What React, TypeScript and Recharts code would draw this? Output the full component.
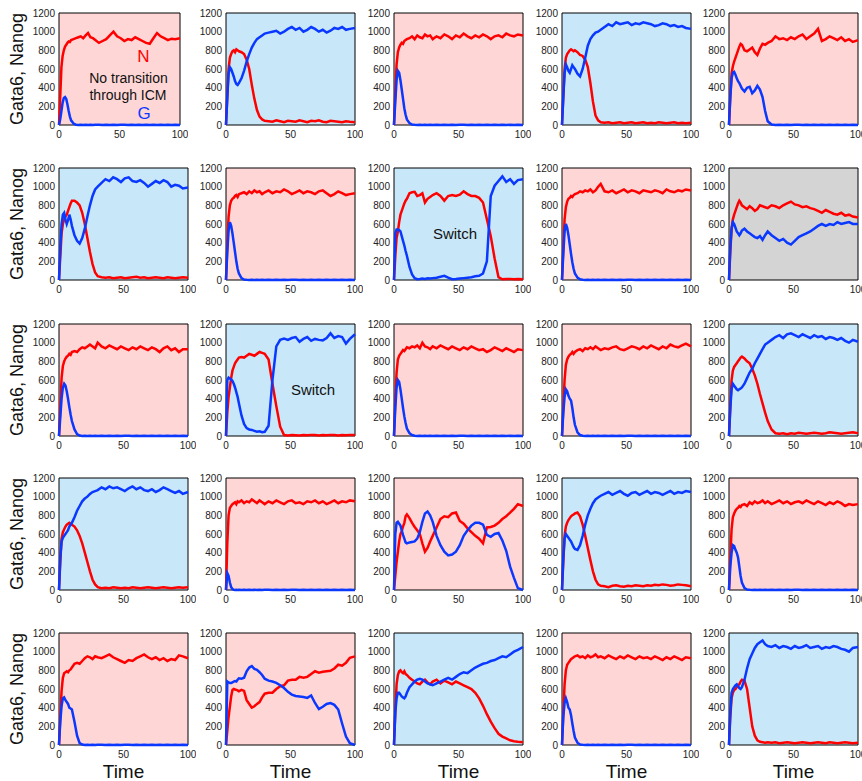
import React from 'react'
import { LineChart, Line, XAxis, YAxis, ReferenceArea } from 'recharts'

// shared time axis (dense at the start, where things move fast)
const time = [
  0, 1, 2, 3, 4, 5, 6, 7, 8, 9, 10,
  12, 14, 16, 18, 20, 22, 24, 26, 28, 30,
  33, 36, 39, 42, 45, 48, 51, 54, 57, 60, 63, 66,
  69, 72, 75, 78, 81, 84, 87, 90, 93, 96, 100,
]

// row 1
const n11 = [
  0, 300, 620, 740, 800, 840, 860, 880, 895, 890, 910,
  920, 930, 940, 950, 930, 960, 985, 940, 930, 910,
  880, 900, 920, 960, 1000, 950, 930, 900, 920, 910, 940, 920,
  900, 880, 870, 930, 985, 950, 930, 910, 925, 920, 930,
]
const g11 = [
  0, 60, 150, 240, 290, 300, 280, 220, 150, 90, 50,
  15, 3, 0, 2, 0, 3, 0, 2, 0, 3,
  2, 0, 3, 0, 2, 0, 3, 2, 0, 3, 0, 2,
  0, 3, 0, 2, 0, 3, 0, 2, 0, 3, 0,
]
const n12 = [
  0, 300, 600, 720, 760, 790, 800, 780, 810, 800, 790,
  780, 760, 700, 600, 430, 280, 160, 90, 60, 45,
  40, 35, 50, 40, 30, 45, 40, 35, 50, 40, 30, 45,
  40, 50, 35, 30, 45, 40, 35, 30, 40, 35, 30,
]
const g12 = [
  0, 300, 550, 620, 600, 560, 520, 470, 440, 430, 450,
  500, 580, 680, 760, 830, 880, 920, 940, 960, 980,
  990, 1000, 1010, 980, 1000, 1030, 1050, 1020, 1040, 1000, 1020, 1050,
  1030, 1000, 1020, 990, 1010, 1040, 1030, 1050, 1020, 1030, 1040,
]
const n13 = [
  0, 350, 650, 780, 830, 860, 880, 870, 900, 910, 920,
  930, 950, 920, 960, 940, 930, 970, 950, 960, 920,
  950, 930, 970, 950, 920, 960, 940, 980, 950, 930, 960, 940,
  970, 950, 920, 950, 960, 940, 980, 960, 950, 970, 960,
]
const g13 = [
  0, 250, 480, 580, 560, 480, 380, 280, 180, 110, 60,
  20, 5, 2, 0, 3, 0, 2, 0, 3, 0,
  2, 0, 3, 0, 2, 0, 3, 2, 0, 3, 0, 2,
  0, 3, 0, 2, 0, 3, 0, 2, 0, 3, 0,
]
const n14 = [
  0, 300, 600, 720, 760, 780, 800, 810, 800, 790, 800,
  780, 750, 740, 700, 620, 450, 250, 100, 50, 30,
  25, 30, 20, 25, 30, 20, 25, 30, 20, 25, 30, 20,
  25, 20, 30, 25, 20, 25, 30, 20, 25, 20, 25,
]
const g14 = [
  0, 300, 550, 650, 620, 580, 560, 600, 640, 620, 600,
  550, 520, 600, 720, 850, 920, 960, 990, 1000, 1020,
  1050, 1080, 1060, 1100, 1080, 1090, 1100, 1070, 1090, 1080, 1100, 1090,
  1080, 1060, 1070, 1090, 1080, 1060, 1070, 1050, 1060, 1040, 1030,
]
const n15 = [
  0, 300, 550, 630, 680, 720, 760, 800, 840, 870, 860,
  800, 790, 810, 830, 780, 750, 820, 870, 860, 880,
  900, 950, 920, 930, 910, 940, 920, 950, 970, 920, 950, 980,
  1030, 900, 920, 950, 930, 910, 940, 900, 920, 890, 910,
]
const g15 = [
  0, 300, 500, 560, 570, 540, 500, 470, 450, 420, 390,
  360, 400, 410, 340, 370, 420, 380, 300, 150, 40,
  5, 0, 3, 0, 2, 0, 3, 2, 0, 3, 0, 2,
  0, 3, 0, 2, 0, 3, 0, 2, 0, 3, 0,
]

// row 2
const n21 = [
  0, 250, 500, 600, 650, 680, 700, 740, 780, 820, 850,
  850, 830, 800, 720, 600, 450, 300, 170, 80, 40,
  30, 25, 30, 20, 25, 30, 20, 25, 30, 35, 25, 30,
  20, 25, 30, 25, 20, 30, 25, 20, 25, 30, 25,
]
const g21 = [
  0, 350, 600, 700, 720, 650, 600, 640, 700, 650, 580,
  480, 420, 390, 450, 550, 680, 800, 900, 970, 1000,
  1040, 1080, 1060, 1100, 1080, 1050, 1090, 1100, 1060, 1050, 1070, 1040,
  1000, 1030, 1060, 1040, 1070, 1050, 1000, 1020, 1010, 980, 990,
]
const n22 = [
  0, 380, 680, 800, 850, 870, 880, 900, 910, 890, 920,
  930, 940, 920, 950, 930, 960, 940, 950, 920, 940,
  960, 930, 950, 940, 970, 950, 920, 940, 960, 930, 950, 940,
  920, 950, 960, 930, 900, 920, 950, 930, 910, 920, 930,
]
const g22 = [
  0, 300, 530, 620, 580, 500, 400, 300, 200, 120, 70,
  20, 5, 2, 0, 3, 0, 2, 0, 3, 0,
  2, 0, 3, 0, 2, 0, 3, 2, 0, 3, 0, 2,
  0, 3, 0, 2, 0, 3, 0, 2, 0, 3, 0,
]
const n23 = [
  0, 250, 450, 520, 620, 700, 740, 780, 820, 850, 870,
  930, 940, 945, 900, 910, 930, 830, 870, 890, 910,
  930, 900, 850, 900, 910, 900, 915, 950, 920, 900, 900, 880,
  830, 650, 470, 230, 30, 8, 10, 12, 8, 10, 8,
]
const g23 = [
  0, 500, 540, 540, 535, 520, 470, 420, 370, 310, 260,
  140, 60, 20, 8, 10, 15, 12, 18, 15, 20,
  25, 35, 45, 25, 8, 10, 15, 20, 25, 30, 40, 45,
  70, 200, 900, 1010, 1060, 1110, 1050, 1080, 1030, 1070, 1080,
]
const n24 = [
  0, 350, 650, 780, 840, 870, 880, 900, 890, 910, 920,
  930, 950, 940, 960, 950, 970, 940, 960, 1000, 1030,
  950, 940, 960, 930, 950, 970, 940, 960, 950, 930, 960, 950,
  940, 960, 950, 930, 970, 950, 940, 960, 950, 970, 960,
]
const g24 = [
  0, 280, 520, 600, 560, 480, 380, 280, 190, 120, 70,
  25, 8, 2, 0, 3, 0, 2, 0, 3, 0,
  2, 0, 3, 0, 2, 0, 3, 2, 0, 3, 0, 2,
  0, 3, 0, 2, 0, 3, 0, 2, 0, 3, 0,
]
const n25 = [
  0, 300, 550, 650, 700, 740, 780, 820, 850, 830, 800,
  780, 760, 790, 770, 740, 760, 800, 790, 780, 770,
  800, 790, 770, 800, 820, 840, 810, 800, 780, 790, 770, 760,
  740, 720, 750, 730, 710, 700, 720, 690, 700, 680, 670,
]
const g25 = [
  0, 350, 550, 620, 600, 560, 520, 500, 480, 500, 530,
  550, 520, 500, 480, 460, 450, 470, 430, 480, 520,
  480, 450, 420, 440, 400, 380, 420, 460, 480, 500, 520, 550,
  580, 600, 580, 600, 590, 620, 600, 610, 620, 600, 600,
]

// row 3
const n31 = [
  0, 300, 620, 750, 800, 830, 850, 860, 880, 870, 900,
  910, 900, 930, 950, 940, 960, 980, 960, 940, 1000,
  960, 940, 970, 950, 930, 960, 940, 920, 950, 930, 960, 940,
  920, 950, 930, 900, 940, 960, 920, 940, 900, 930, 930,
]
const g31 = [
  0, 200, 400, 520, 560, 540, 480, 400, 310, 230, 160,
  70, 20, 5, 0, 3, 0, 2, 0, 3, 0,
  2, 0, 3, 0, 2, 0, 3, 2, 0, 3, 0, 2,
  0, 3, 0, 2, 0, 3, 0, 2, 0, 3, 0,
]
const n32 = [
  0, 250, 420, 520, 620, 700, 740, 780, 800, 820, 840,
  845, 840, 860, 880, 870, 860, 880, 900, 890, 880,
  820, 560, 320, 100, 10, 5, 10, 8, 5, 10, 8, 12,
  10, 5, 10, 8, 12, 10, 5, 10, 8, 12, 10,
]
const g32 = [
  0, 600, 625, 615, 605, 590, 560, 520, 470, 420, 350,
  220, 130, 85, 70, 65, 55, 45, 50, 40, 45,
  110, 600, 960, 1030, 1045, 1030, 1050, 1060, 1010, 1040, 1060, 1020,
  1040, 1030, 1025, 1050, 1100, 1050, 1070, 1060, 990, 1040, 1090,
]
const n33 = [
  0, 380, 680, 820, 860, 880, 900, 920, 910, 930, 950,
  940, 960, 950, 970, 940, 1000, 960, 950, 930, 960,
  940, 970, 950, 930, 960, 940, 920, 950, 930, 960, 940, 920,
  930, 900, 920, 950, 930, 910, 940, 920, 900, 930, 920,
]
const g33 = [
  0, 300, 520, 600, 580, 500, 400, 300, 210, 140, 80,
  30, 10, 2, 0, 3, 0, 2, 0, 3, 0,
  2, 0, 3, 0, 2, 0, 3, 2, 0, 3, 0, 2,
  0, 3, 0, 2, 0, 3, 0, 2, 0, 3, 0,
]
const n34 = [
  0, 300, 600, 760, 820, 850, 870, 880, 900, 880, 900,
  920, 930, 910, 940, 930, 950, 930, 960, 940, 920,
  940, 930, 950, 960, 930, 920, 940, 960, 950, 930, 960, 940,
  970, 950, 930, 960, 940, 980, 960, 950, 970, 990, 960,
]
const g34 = [
  0, 250, 420, 500, 480, 430, 400, 380, 300, 200, 120,
  40, 10, 2, 0, 3, 0, 2, 0, 3, 0,
  2, 0, 3, 0, 2, 0, 3, 2, 0, 3, 0, 2,
  0, 3, 0, 2, 0, 3, 0, 2, 0, 3, 0,
]
const n35 = [
  0, 300, 600, 700, 740, 760, 780, 800, 820, 840, 850,
  830, 800, 780, 720, 650, 560, 450, 350, 250, 160,
  70, 30, 25, 30, 20, 30, 25, 35, 30, 25, 30, 35,
  30, 25, 30, 40, 35, 30, 25, 30, 35, 40, 30,
]
const g35 = [
  0, 300, 500, 560, 540, 520, 500, 490, 500, 510, 520,
  560, 620, 680, 720, 780, 830, 880, 930, 980, 1000,
  1030, 1060, 1080, 1050, 1090, 1100, 1080, 1060, 1090, 1070, 1050, 1080,
  1060, 1070, 1040, 1060, 1050, 1030, 1050, 1020, 1000, 1030, 1010,
]

// row 4
const n41 = [
  0, 300, 550, 620, 650, 680, 700, 710, 720, 710, 700,
  680, 640, 580, 500, 400, 300, 200, 110, 60, 30,
  20, 25, 20, 30, 25, 20, 25, 20, 30, 25, 20, 25,
  30, 25, 20, 25, 30, 25, 20, 25, 30, 25, 30,
]
const g41 = [
  0, 350, 520, 560, 580, 600, 620, 640, 680, 700, 720,
  780, 850, 900, 950, 980, 1000, 1030, 1050, 1060, 1070,
  1100, 1080, 1110, 1090, 1100, 1080, 1060, 1090, 1110, 1080, 1100, 1070,
  1060, 1080, 1050, 1070, 1100, 1080, 1060, 1040, 1060, 1030, 1050,
]
const n42 = [
  0, 500, 800, 880, 900, 920, 930, 940, 920, 950, 940,
  960, 930, 950, 940, 970, 950, 930, 960, 940, 920,
  950, 930, 960, 940, 920, 950, 960, 930, 940, 920, 950, 940,
  960, 930, 950, 920, 940, 960, 930, 950, 940, 960, 950,
]
const g42 = [
  0, 180, 150, 80, 30, 10, 3, 0, 2, 0, 3,
  0, 3, 0, 2, 0, 3, 0, 2, 0, 3,
  2, 0, 3, 0, 2, 0, 3, 2, 0, 3, 0, 2,
  0, 3, 0, 2, 0, 3, 0, 2, 0, 3, 0,
]
const n43 = [
  0, 150, 300, 410, 520, 600, 630, 680, 720, 790, 810,
  770, 720, 675, 640, 600, 500, 410, 450, 520, 580,
  670, 760, 790, 780, 820, 830, 740, 710, 660, 620, 580, 550,
  500, 670, 675, 690, 720, 760, 790, 830, 870, 920, 900,
]
const g43 = [
  0, 600, 720, 730, 710, 690, 640, 590, 550, 510, 500,
  510, 515, 520, 550, 620, 730, 820, 840, 800, 730,
  580, 480, 410, 370, 380, 410, 480, 580, 640, 690, 720, 720,
  700, 590, 570, 600, 610, 530, 420, 250, 130, 20, 0,
]
const n44 = [
  0, 300, 580, 680, 720, 750, 770, 790, 800, 810, 820,
  830, 790, 700, 580, 450, 320, 200, 110, 60, 45,
  40, 30, 45, 50, 40, 35, 45, 40, 50, 45, 40, 50,
  45, 55, 50, 60, 55, 45, 50, 60, 55, 50, 40,
]
const g44 = [
  0, 350, 550, 600, 580, 560, 540, 520, 490, 460, 440,
  430, 480, 580, 700, 800, 870, 930, 970, 990, 1010,
  1030, 1050, 1020, 1040, 1060, 1030, 1010, 1040, 1050, 1020, 1040, 1060,
  1030, 1050, 1040, 1020, 1040, 1060, 1030, 1050, 1040, 1060, 1050,
]
const n45 = [
  0, 350, 650, 780, 820, 850, 870, 880, 900, 890, 910,
  920, 900, 940, 920, 950, 930, 940, 960, 930, 950,
  920, 940, 960, 930, 950, 920, 940, 950, 930, 960, 940, 920,
  950, 930, 910, 940, 920, 950, 930, 900, 920, 910, 920,
]
const g45 = [
  0, 250, 400, 480, 470, 430, 400, 350, 250, 150, 80,
  20, 5, 2, 0, 3, 0, 2, 0, 3, 0,
  2, 0, 3, 0, 2, 0, 3, 2, 0, 3, 0, 2,
  0, 3, 0, 2, 0, 3, 0, 2, 0, 3, 0,
]

// row 5
const n51 = [
  0, 300, 580, 720, 770, 780, 790, 780, 800, 810, 830,
  870, 880, 870, 900, 930, 950, 940, 920, 950, 940,
  930, 950, 970, 940, 920, 900, 880, 910, 900, 930, 950, 970,
  940, 920, 940, 910, 930, 900, 920, 910, 960, 950, 930,
]
const g51 = [
  0, 250, 420, 500, 510, 480, 460, 440, 400, 390, 380,
  250, 100, 20, 5, 0, 3, 0, 2, 0, 3,
  2, 0, 3, 0, 2, 0, 3, 2, 0, 3, 0, 2,
  0, 3, 0, 2, 0, 3, 0, 2, 0, 3, 0,
]
const n52 = [
  0, 150, 300, 410, 520, 590, 600, 595, 590, 585, 575,
  590, 580, 480, 440, 400, 415, 440, 460, 510, 550,
  560, 560, 600, 630, 640, 690, 700, 700, 730, 720, 730, 760,
  790, 775, 785, 790, 795, 820, 860, 850, 880, 935, 950,
]
const g52 = [
  0, 680, 670, 665, 665, 670, 680, 685, 680, 700, 715,
  710, 720, 790, 830, 845, 815, 805, 780, 750, 710,
  690, 680, 665, 640, 610, 570, 540, 525, 520, 515, 505, 530,
  450, 385, 410, 440, 450, 430, 380, 230, 90, 20, 0,
]
const n53 = [
  0, 350, 650, 750, 790, 800, 780, 770, 790, 760, 750,
  720, 700, 680, 660, 650, 680, 700, 670, 650, 680,
  700, 660, 690, 670, 650, 680, 660, 640, 620, 600, 560, 500,
  420, 330, 250, 180, 120, 90, 70, 50, 40, 35, 30,
]
const g53 = [
  0, 350, 500, 560, 560, 540, 520, 510, 500, 520, 560,
  620, 650, 680, 700, 710, 700, 680, 660, 650, 640,
  660, 680, 700, 720, 700, 730, 760, 780, 770, 800, 830, 850,
  870, 880, 900, 910, 930, 950, 940, 970, 1000, 1020, 1050,
]
const n54 = [
  0, 350, 650, 800, 860, 880, 900, 920, 930, 940, 950,
  960, 940, 950, 930, 960, 940, 950, 970, 940, 950,
  930, 960, 940, 920, 950, 930, 960, 940, 920, 950, 930, 940,
  920, 950, 930, 910, 940, 920, 950, 930, 910, 940, 930,
]
const g54 = [
  0, 300, 450, 500, 460, 400, 380, 320, 230, 150, 80,
  25, 5, 2, 0, 3, 0, 2, 0, 3, 0,
  2, 0, 3, 0, 2, 0, 3, 2, 0, 3, 0, 2,
  0, 3, 0, 2, 0, 3, 0, 2, 0, 3, 0,
]
const n55 = [
  0, 300, 500, 560, 590, 600, 620, 640, 650, 680, 700,
  690, 600, 400, 200, 100, 50, 35, 30, 25, 30,
  25, 30, 20, 25, 30, 25, 20, 25, 30, 25, 20, 25,
  30, 25, 20, 30, 25, 20, 25, 30, 25, 20, 25,
]
const g55 = [
  0, 350, 560, 600, 620, 640, 650, 630, 610, 600, 620,
  700, 820, 920, 980, 1040, 1080, 1100, 1120, 1080, 1060,
  1050, 1070, 1040, 1060, 1050, 1030, 1060, 1040, 1050, 1070, 1040, 1050,
  1060, 1030, 1050, 1040, 1060, 1050, 1030, 1020, 1000, 1040, 1050,
]

const xTicks = [0, 50, 100]
const yTicks = [0, 200, 400, 600, 800, 1000, 1200]

const PINK = '#ffd6d6'
const SKY = '#c8e8fa'
const GREY = '#d4d4d4'
const RED = '#ff0000'
const BLUE = '#0a38ff'
const FONT = '"Liberation Sans", Arial, Helvetica, sans-serif'

const grid = [
  [[n11, g11, PINK], [n12, g12, SKY], [n13, g13, PINK], [n14, g14, SKY], [n15, g15, PINK]],
  [[n21, g21, SKY], [n22, g22, PINK], [n23, g23, SKY], [n24, g24, PINK], [n25, g25, GREY]],
  [[n31, g31, PINK], [n32, g32, SKY], [n33, g33, PINK], [n34, g34, PINK], [n35, g35, SKY]],
  [[n41, g41, SKY], [n42, g42, PINK], [n43, g43, PINK], [n44, g44, SKY], [n45, g45, PINK]],
  [[n51, g51, PINK], [n52, g52, PINK], [n53, g53, SKY], [n54, g54, PINK], [n55, g55, SKY]],
] as [number[], number[], string][][]

const colLeft = [59, 226, 394, 562, 729]
const rowTop = [13, 168, 324, 478, 633]
const PW = 129
const PH = 112
const YW = 36
const MT = 8
const MR = 8
const XH = 20

const tickStyle = { fontSize: 10, fill: '#222', fontFamily: FONT }

type PanelProps = { n: number[]; g: number[]; bg: string; x: number; y: number; w: number }

function Panel({ n, g, bg, x, y, w }: PanelProps) {
  const data = time.map((t, i) => ({ t, n: n[i], g: g[i] }))
  return (
    <div style={{ position: 'absolute', left: x - YW, top: y - MT }}>
      <LineChart
        width={w + YW + MR}
        height={PH + MT + XH}
        data={data}
        margin={{ top: MT, right: MR, bottom: 0, left: 0 }}
      >
        <XAxis
          dataKey="t"
          type="number"
          domain={[0, 100]}
          ticks={xTicks}
          interval={0}
          height={XH}
          tickLine={false}
          axisLine={false}
          tickSize={3}
          tickMargin={3}
          tick={tickStyle}
        />
        <YAxis
          type="number"
          domain={[0, 1200]}
          ticks={yTicks}
          interval={0}
          width={YW}
          tickLine={false}
          axisLine={false}
          tickSize={2}
          tickMargin={2}
          tick={tickStyle}
        />
        <ReferenceArea x1={0} x2={100} y1={0} y2={1200} fill={bg} fillOpacity={1} stroke="#000" strokeWidth={1} />
        <Line type="linear" dataKey="n" stroke={RED} strokeWidth={2.5} dot={false} isAnimationActive={false} />
        <Line type="linear" dataKey="g" stroke={BLUE} strokeWidth={2.5} dot={false} isAnimationActive={false} />
      </LineChart>
    </div>
  )
}

function Label({ x, y, size, color = '#111', children }: { x: number; y: number; size: number; color?: string; children: React.ReactNode }) {
  return (
    <div
      style={{
        position: 'absolute',
        left: x,
        top: y,
        transform: 'translate(-50%, -50%)',
        fontSize: size,
        color,
        lineHeight: 1,
        whiteSpace: 'nowrap',
        fontFamily: FONT,
      }}
    >
      {children}
    </div>
  )
}

export default function App() {
  return (
    <div style={{ position: 'absolute', left: 0, top: 0, width: 862, height: 781, background: '#fff', fontFamily: FONT, overflow: 'hidden' }}>
      {grid.map((row, r) =>
        row.map(([n, g, bg], c) => (
          <Panel
            key={`${r}-${c}`}
            n={n}
            g={g}
            bg={bg}
            x={colLeft[c]}
            y={rowTop[r]}
            w={r === 0 && c === 0 ? 121 : PW}
          />
        ))
      )}
      {rowTop.map((top, r) => (
        <div
          key={`yl-${r}`}
          style={{
            position: 'absolute',
            left: 17,
            top: top + PH / 2,
            transform: 'translate(-50%, -50%) rotate(-90deg)',
            fontSize: 18,
            lineHeight: 1,
            whiteSpace: 'nowrap',
            color: '#111',
            fontFamily: FONT,
          }}
        >
          Gata6, Nanog
        </div>
      ))}
      {colLeft.map((left, c) => (
        <Label key={`xl-${c}`} x={left + PW / 2} y={771} size={19}>
          Time
        </Label>
      ))}
      <Label x={143.5} y={56} size={17} color={RED}>N</Label>
      <Label x={128.5} y={78} size={14}>No transition</Label>
      <Label x={128} y={95} size={14}>through ICM</Label>
      <Label x={144} y={113} size={17} color={BLUE}>G</Label>
      <Label x={455} y={233} size={15}>Switch</Label>
      <Label x={313} y={389} size={15}>Switch</Label>
    </div>
  )
}
